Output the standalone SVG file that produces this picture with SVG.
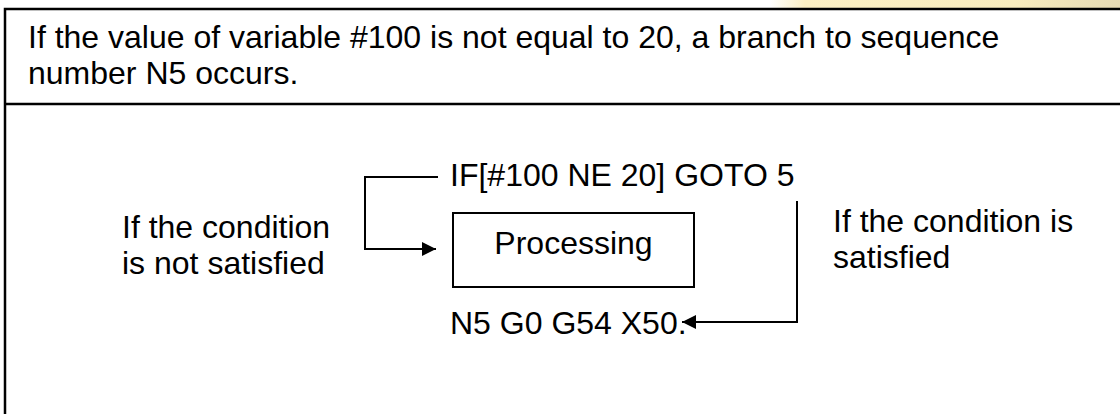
<svg xmlns="http://www.w3.org/2000/svg" width="1120" height="414" viewBox="0 0 1120 414">
<style>
text{font-family:"Liberation Sans",Arial,sans-serif;font-size:32px;fill:#000}
.ln{fill:none;stroke:#000;stroke-width:2}
.frame{fill:none;stroke:#000;stroke-width:2.5}
</style>
<defs>
<linearGradient id="band" x1="0" y1="0" x2="1" y2="0">
<stop offset="0" stop-color="#ffffff"/>
<stop offset="0.1" stop-color="#fcf0c4"/>
<stop offset="0.7" stop-color="#f8ecbe"/>
<stop offset="1" stop-color="#e6dab4"/>
</linearGradient>
<marker id="ah" viewBox="0 0 14 14" refX="14" refY="7" markerWidth="14" markerHeight="14" markerUnits="userSpaceOnUse" orient="auto">
<path d="M0,0 L14,7 L0,14 Z" fill="#000"/>
</marker>
</defs>
<rect x="0" y="0" width="1120" height="414" fill="#fff"/>
<rect x="770" y="0" width="350" height="8" fill="url(#band)"/>
<g id="frame">
<path class="frame" d="M5,414 V9 H1120"/>
<line class="frame" x1="5" y1="104" x2="1120" y2="104"/>
</g>
<g id="header">
<text x="28" y="48">If the value of variable #100 is not equal to 20, a branch to sequence</text>
<text x="28" y="84">number N5 occurs.</text>
</g>
<g id="if-line"><text x="450" y="186">IF[#100 NE 20] GOTO 5</text></g>
<g id="processing">
<rect class="ln" x="453" y="213" width="241" height="74"/>
<text x="573.5" y="254" text-anchor="middle">Processing</text>
</g>
<g id="n5-line"><text x="450" y="334">N5 G0 G54 X50.</text></g>
<g id="label-not-satisfied">
<text x="122" y="238">If the condition</text>
<text x="122" y="274">is not satisfied</text>
</g>
<g id="label-satisfied">
<text x="833" y="232">If the condition is</text>
<text x="833" y="268">satisfied</text>
</g>
<g id="connectors">
<path class="ln" d="M438,177 H365 V249 H436" marker-end="url(#ah)"/>
<path class="ln" d="M797,201 V322 H682" marker-end="url(#ah)"/>
</g>
</svg>
